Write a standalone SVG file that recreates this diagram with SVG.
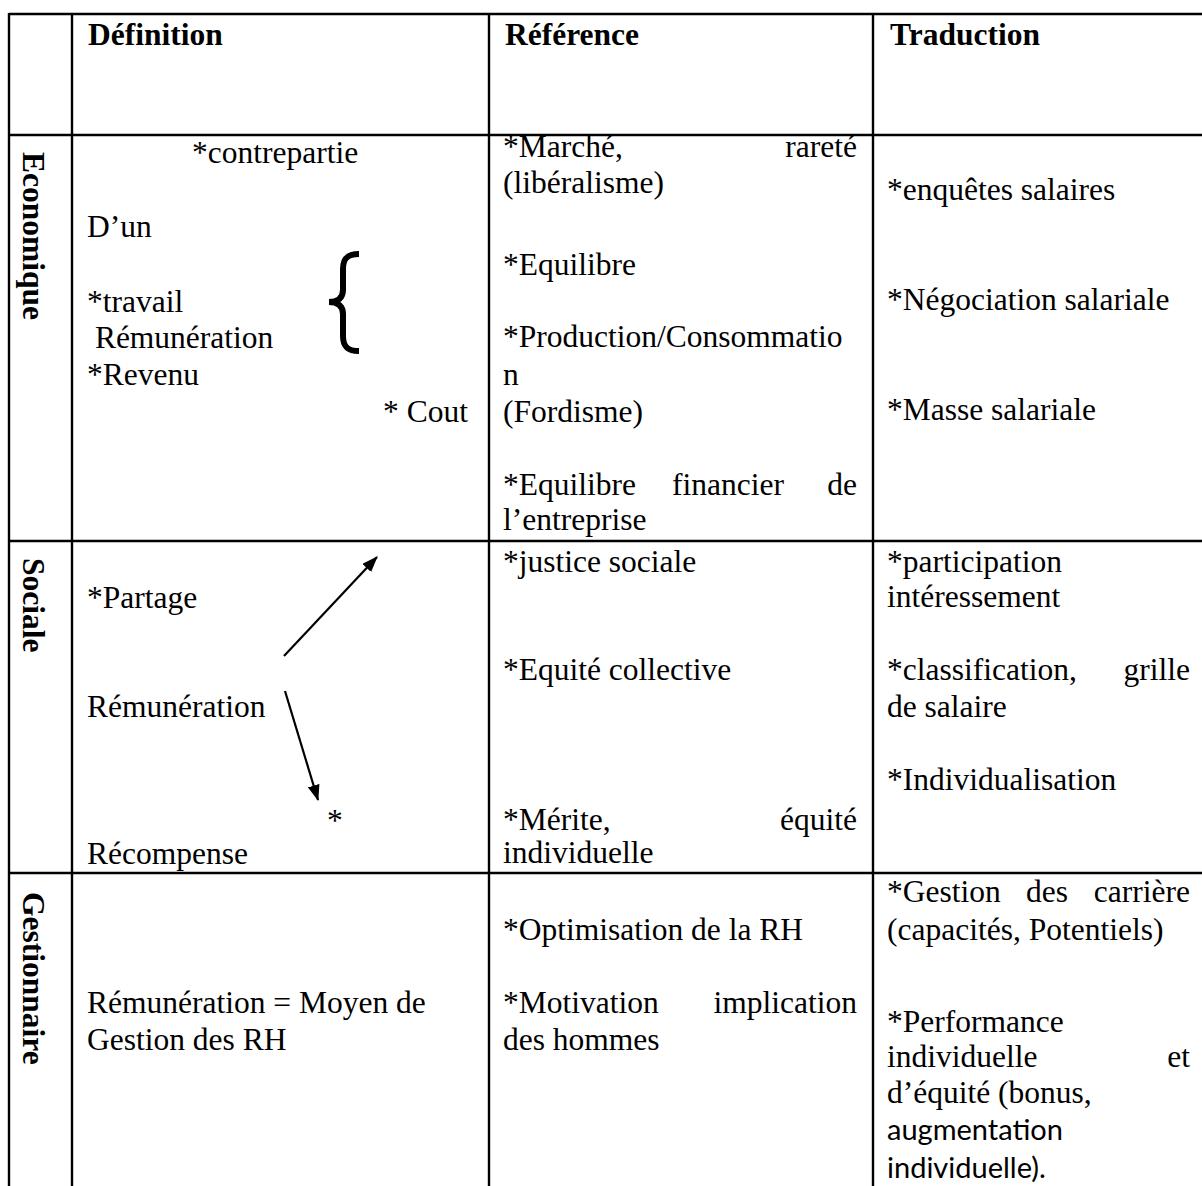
<svg xmlns="http://www.w3.org/2000/svg" width="1202" height="1186" viewBox="0 0 1202 1186">
<defs>
<style>
.t{font-family:"Liberation Serif","Times New Roman",serif;font-size:31.5px;fill:#000}
.b{font-family:"Liberation Serif","Times New Roman",serif;font-size:31.5px;font-weight:bold;fill:#000}
.c{font-family:Lato,"Noto Sans",sans-serif;font-size:29px;fill:#000}
.e{text-anchor:end}
.grid{stroke:#000;stroke-width:2.4;fill:none}
.arr{stroke:#000;stroke-width:2.2;fill:none;marker-end:url(#ah)}
</style>
<marker id="ah" viewBox="0 0 16 12" refX="15" refY="6" markerWidth="16" markerHeight="12" markerUnits="userSpaceOnUse" orient="auto">
<path d="M0,0 L16,6 L0,12 z" fill="#000"/>
</marker>
</defs>
<rect width="1202" height="1186" fill="#fff"/>
<g id="grid" class="grid">
<line x1="9" y1="14" x2="1202" y2="14"/>
<line x1="9" y1="135" x2="1202" y2="135"/>
<line x1="9" y1="541" x2="1202" y2="541"/>
<line x1="9" y1="873" x2="1202" y2="873"/>
<line x1="9" y1="13" x2="9" y2="1186"/>
<line x1="72" y1="13" x2="72" y2="1186"/>
<line x1="489" y1="13" x2="489" y2="1186"/>
<line x1="873" y1="13" x2="873" y2="1186"/>
</g>
<g id="header">
<text class="b" x="88" y="45">Définition</text>
<text class="b" x="505" y="45">Référence</text>
<text class="b" x="890" y="45">Traduction</text>
</g>
<g id="row-labels">
<text class="b" transform="translate(23,152) rotate(90)">Economique</text>
<text class="b" transform="translate(23,558) rotate(90)">Sociale</text>
<text class="b" transform="translate(23,892) rotate(90)">Gestionnaire</text>
</g>
<g id="eco-definition">
<text class="t" x="192" y="163">*contrepartie</text>
<text class="t" x="87" y="237">D’un</text>
<text class="t" x="87" y="312">*travail</text>
<text class="t" x="87" y="348" xml:space="preserve"> Rémunération</text>
<text class="t" x="87" y="385">*Revenu</text>
<text class="t e" x="468" y="422">* Cout</text>
<path d="M359,254 C347,254 343,259 343,269 L343,290 C343,298 338,302 329,302 C338,302 343,306 343,314 L343,336 C343,346 347,351 359,351" stroke="#000" stroke-width="6" fill="none" stroke-linecap="butt"/>
</g>
<g id="eco-reference">
<text class="t" x="503" y="157">*Marché,</text>
<text class="t e" x="857" y="157">rareté</text>
<text class="t" x="503" y="193">(libéralisme)</text>
<text class="t" x="503" y="275">*Equilibre</text>
<text class="t" x="503" y="347">*Production/Consommatio</text>
<text class="t" x="503" y="385">n</text>
<text class="t" x="503" y="422">(Fordisme)</text>
<text class="t" x="503" y="495">*Equilibre</text>
<text class="t" x="672" y="495">financier</text>
<text class="t e" x="857" y="495">de</text>
<text class="t" x="503" y="530">l’entreprise</text>
</g>
<g id="eco-traduction">
<text class="t" x="887" y="200">*enquêtes salaires</text>
<text class="t" x="887" y="310">*Négociation salariale</text>
<text class="t" x="887" y="420">*Masse salariale</text>
</g>
<g id="soc-definition">
<text class="t" x="87" y="608">*Partage</text>
<text class="t" x="87" y="717">Rémunération</text>
<text class="t" x="327" y="831">*</text>
<text class="t" x="87" y="864">Récompense</text>
</g>
<g id="connectors">
<line class="arr" x1="284" y1="656" x2="377" y2="557"/>
<line class="arr" x1="285" y1="691" x2="318" y2="800"/>
</g>
<g id="soc-reference">
<text class="t" x="503" y="572">*justice sociale</text>
<text class="t" x="503" y="680">*Equité collective</text>
<text class="t" x="503" y="830">*Mérite,</text>
<text class="t e" x="857" y="830">équité</text>
<text class="t" x="503" y="863">individuelle</text>
</g>
<g id="soc-traduction">
<text class="t" x="887" y="572">*participation</text>
<text class="t" x="887" y="607">intéressement</text>
<text class="t" x="887" y="680">*classification,</text>
<text class="t e" x="1190" y="680">grille</text>
<text class="t" x="887" y="717">de salaire</text>
<text class="t" x="887" y="790">*Individualisation</text>
</g>
<g id="ges-definition">
<text class="t" x="87" y="1013">Rémunération = Moyen de</text>
<text class="t" x="87" y="1050">Gestion des RH</text>
</g>
<g id="ges-reference">
<text class="t" x="503" y="940">*Optimisation de la RH</text>
<text class="t" x="503" y="1013">*Motivation</text>
<text class="t e" x="857" y="1013">implication</text>
<text class="t" x="503" y="1050">des hommes</text>
</g>
<g id="ges-traduction">
<text class="t" x="887" y="902">*Gestion</text>
<text class="t" x="1026" y="902">des</text>
<text class="t e" x="1190" y="902">carrière</text>
<text class="t" x="887" y="940">(capacités, Potentiels)</text>
<text class="t" x="887" y="1032">*Performance</text>
<text class="t" x="887" y="1067">individuelle</text>
<text class="t e" x="1190" y="1067">et</text>
<text class="t" x="887" y="1103">d’équité (bonus,</text>
<text class="c" x="887" y="1140">augmentation</text>
<text class="c" x="887" y="1178">individuelle).</text>
</g>
</svg>
